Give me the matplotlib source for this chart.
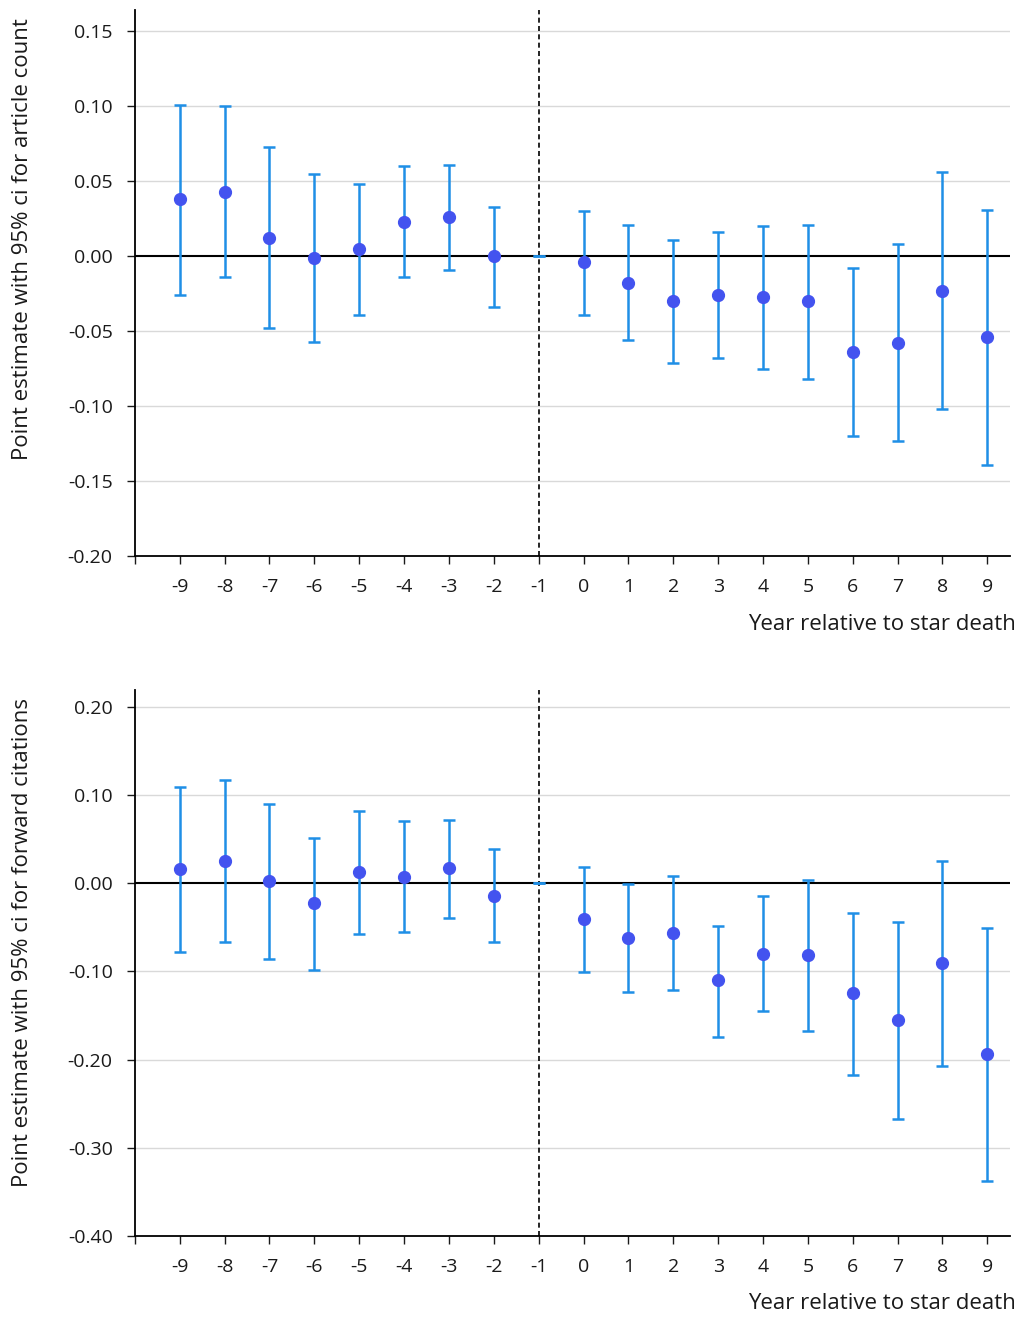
import matplotlib
matplotlib.use('Agg')
from matplotlib import pyplot as plt
import numpy as np

plt.rcParams['font.family'] = ['Open Sans', 'DejaVu Sans']

years = [-9, -8, -7, -6, -5, -4, -3, -2, -1, 0, 1, 2, 3, 4, 5, 6, 7, 8, 9]

# article count
est1 = [0.038, 0.043, 0.012, -0.001, 0.005, 0.023, 0.026, 0.000, 0.0,
        -0.004, -0.018, -0.030, -0.026, -0.027, -0.030, -0.064, -0.058, -0.023, -0.054]
lo1 = [-0.026, -0.014, -0.048, -0.057, -0.039, -0.014, -0.009, -0.034, 0.0,
       -0.039, -0.056, -0.071, -0.068, -0.075, -0.082, -0.120, -0.123, -0.102, -0.139]
hi1 = [0.101, 0.100, 0.073, 0.055, 0.048, 0.060, 0.061, 0.033, 0.0,
       0.030, 0.021, 0.011, 0.016, 0.020, 0.021, -0.008, 0.008, 0.056, 0.031]

# forward citations
est2 = [0.016, 0.025, 0.002, -0.023, 0.013, 0.007, 0.017, -0.014, 0.0,
        -0.041, -0.062, -0.056, -0.110, -0.080, -0.082, -0.125, -0.155, -0.091, -0.194]
lo2 = [-0.078, -0.067, -0.086, -0.098, -0.058, -0.055, -0.040, -0.067, 0.0,
       -0.101, -0.123, -0.121, -0.174, -0.145, -0.168, -0.217, -0.267, -0.207, -0.338]
hi2 = [0.109, 0.117, 0.090, 0.051, 0.082, 0.070, 0.072, 0.039, 0.0,
       0.018, -0.001, 0.008, -0.048, -0.015, 0.004, -0.034, -0.044, 0.025, -0.051]

ylab1 = 'Point estimate with 95% ci for article count'
ylab2 = 'Point estimate with 95% ci for forward citations'
xlab = 'Year relative to star death'

bar_col = '#1f8fe6'
dot_col = '#4353ef'
txt_col = '#1a1a1a'

fig = plt.figure(figsize=(10.22, 13.18), dpi=100)
ax1 = fig.add_axes([0.132, 0.578, 0.856, 0.4143])
ax2 = fig.add_axes([0.132, 0.0622, 0.856, 0.4143])


def panel(ax, est, lo, hi, ylab, yticks, ylim, ylab_y):
    est = np.array(est)
    err = [est - np.array(lo), np.array(hi) - est]
    for t in yticks:
        if t != 0:
            ax.axhline(t, color='#d9d9d9', lw=1, zorder=0)
    ax.axhline(0, color='black', lw=1.5, zorder=1)
    ax.axvline(-1, color='black', lw=1.2, ls=(0, (3, 2)), zorder=1)
    x = np.array(years)
    ax.errorbar(x, est, yerr=err, fmt='none',
                ecolor=bar_col, elinewidth=1.8, capsize=4.5, capthick=1.8, zorder=2)
    m = x != -1
    ax.plot(x[m], est[m], 'o', color=dot_col, ms=8.5, zorder=3)
    ax.set_xlim(-10, 9.5)
    ax.set_ylim(*ylim)
    ax.set_xticks(range(-10, 10))
    ax.set_xticklabels([''] + [str(y) for y in years])
    ax.set_yticks(yticks)
    ax.set_yticklabels(['%.2f' % t for t in yticks])
    ax.spines['top'].set_visible(False)
    ax.spines['right'].set_visible(False)
    ax.spines['left'].set_linewidth(1.3)
    ax.spines['bottom'].set_linewidth(1.3)
    ax.tick_params(axis='x', length=6, width=1, pad=10, labelsize=14, colors=txt_col)
    ax.tick_params(axis='y', length=6, width=1, pad=10, labelsize=14, colors=txt_col)
    ax.set_ylabel(ylab, fontsize=16, color=txt_col)
    ax.set_xlabel(xlab, fontsize=16, color=txt_col)
    ax.yaxis.set_label_coords(-0.117, ylab_y)
    ax.xaxis.set_label_coords(1.007, -0.105)
    ax.xaxis.label.set_ha('right')


panel(ax1, est1, lo1, hi1, ylab1, [-0.20, -0.15, -0.10, -0.05, 0.0, 0.05, 0.10, 0.15],
      (-0.2, 0.164), 0.58)
panel(ax2, est2, lo2, hi2, ylab2, [-0.40, -0.30, -0.20, -0.10, 0.0, 0.10, 0.20],
      (-0.4, 0.219), 0.538)

fig.savefig('out.png', dpi=100)
